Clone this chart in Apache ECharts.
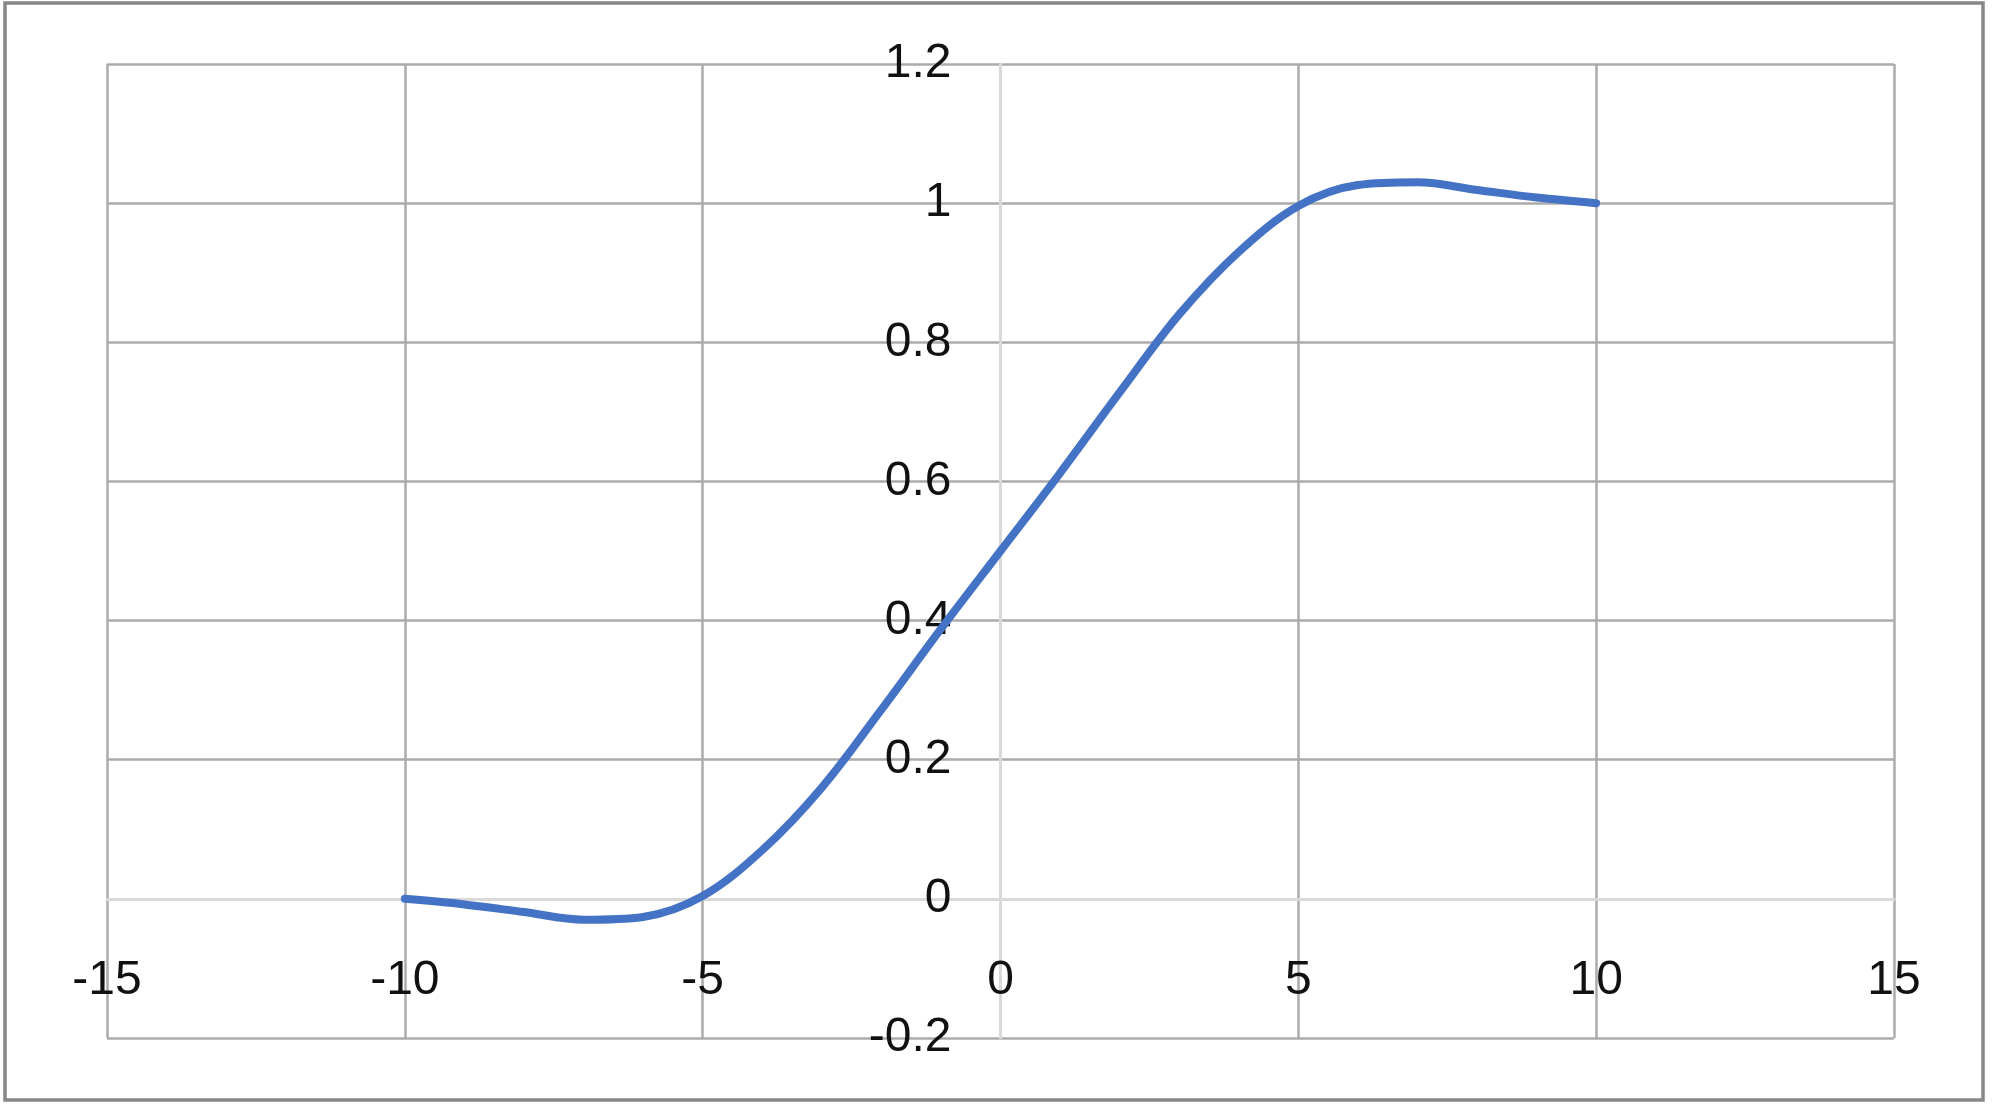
<!DOCTYPE html>
<html>
<head>
<meta charset="utf-8">
<script src="https://cdn.jsdelivr.net/npm/echarts@6/dist/echarts.min.js"></script>
<style>
html,body{margin:0;padding:0;background:#fff;}
#chart{width:2000px;height:1114px;}
</style>
</head>
<body>
<div id="chart"></div>
<script>
var xValues = [-10, -9, -8, -7, -6, -5, -4, -3, -2, -1, 0, 1, 2, 3, 4, 5, 6, 7, 8, 9, 10];
var yValues = [0, -0.008, -0.019, -0.030, -0.026, 0.004, 0.070, 0.160, 0.272, 0.388, 0.5,
               0.612, 0.728, 0.840, 0.930, 0.996, 1.026, 1.030, 1.019, 1.008, 1.0];
// Axis tick labels
var xTicks = [-15, -10, -5, 0, 5, 10, 15];
var yTicks = [-0.2, 0, 0.2, 0.4, 0.6, 0.8, 1, 1.2];

var GRID = '#ababab', AXIS = '#d9d9d9';
function gridColors(ticks) {
  return ticks.map(function (t) { return Math.abs(t) < 1e-9 ? AXIS : GRID; });
}

// grid box (px)
var G = { left: 107, right: 106, top: 64, bottom: 76, W: 2000, H: 1114 };
var gw = G.W - G.left - G.right, gh = G.H - G.top - G.bottom;
var xMin = xTicks[0], xMax = xTicks[xTicks.length - 1];
var yMin = yTicks[0], yMax = yTicks[yTicks.length - 1];
// axes cross at zero: shift them inward from the grid edges
var yAxisOffset = -gw * (0 - xMin) / (xMax - xMin);
var xAxisOffset = -gh * (0 - yMin) / (yMax - yMin);

var chart = echarts.init(document.getElementById('chart'));
var labelFont = { fontFamily: 'Liberation Sans, Arial, sans-serif', fontSize: 48, color: '#111' };

chart.setOption({
  animation: false,
  backgroundColor: '#fff',
  grid: { left: G.left, right: G.right, top: G.top, bottom: G.bottom, containLabel: false, outerBoundsMode: 'none' },
  xAxis: {
    type: 'value',
    min: xMin, max: xMax, interval: xTicks[1] - xTicks[0],
    offset: xAxisOffset,
    axisLine: { show: true, onZero: false, lineStyle: { color: AXIS, width: 3 } },
    axisTick: { show: false },
    axisLabel: Object.assign({ margin: 82, verticalAlign: 'middle',
      formatter: function (v) { return String(v); } }, labelFont),
    splitLine: { show: true, lineStyle: { color: gridColors(xTicks), width: 2.5 } }
  },
  yAxis: {
    type: 'value',
    min: yMin, max: yMax, interval: 0.2,
    offset: yAxisOffset,
    axisLine: { show: true, onZero: false, lineStyle: { color: AXIS, width: 3 } },
    axisTick: { show: false },
    axisLabel: Object.assign({ margin: 49,
      formatter: function (v) { return String(Math.round(v * 10) / 10); } }, labelFont),
    splitLine: { show: true, lineStyle: { color: gridColors(yTicks), width: 2.5 } }
  },
  series: [{
    type: 'line',
    data: xValues.map(function (x, i) { return [x, yValues[i]]; }),
    smooth: 0.35,
    showSymbol: false,
    symbol: 'none',
    lineStyle: { color: '#4472C4', width: 8, cap: 'round', join: 'round' },
    z: 5
  }],
  graphic: [{
    type: 'rect',
    shape: { x: 5, y: 3, width: 1978, height: 1097 },
    style: { fill: 'none', stroke: '#878787', lineWidth: 3.5 },
    silent: true
  }]
});
</script>
</body>
</html>
